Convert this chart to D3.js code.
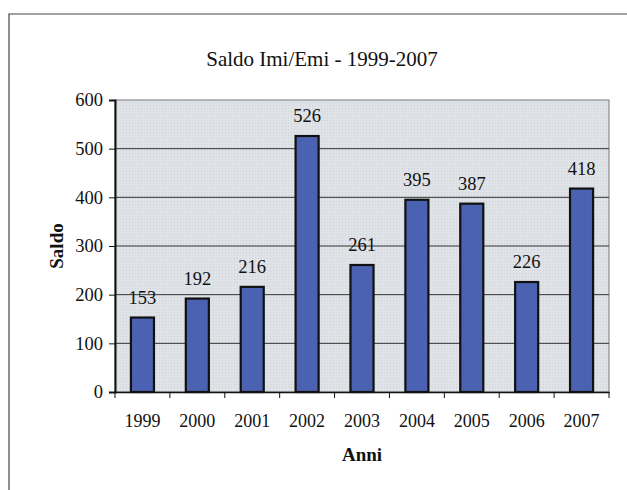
<!DOCTYPE html>
<html><head><meta charset="utf-8">
<script src="https://cdn.jsdelivr.net/npm/d3@7"></script>
<style>body{margin:0;background:#fff}</style>
</head><body>
<script>
const categories = ["1999","2000","2001","2002","2003","2004","2005","2006","2007"];
const values = [153,192,216,526,261,395,387,226,418];
const yTicks = [0,100,200,300,400,500,600];
const title = "Saldo Imi/Emi - 1999-2007";
const xTitle = "Anni";
const yTitle = "Saldo";

const W = 627, H = 490;
const m = {left:115, top:100, right:W-609, bottom:H-392};
const FONT = "'Liberation Serif','Times New Roman',serif";
const svg = d3.select("body").append("svg").attr("width",W).attr("height",H)
  .style("font-family",FONT);

// outer frame
svg.append("path").attr("d",`M9,${H+5} L9,14 L${W+5},14`).attr("fill","none")
  .attr("stroke","#444").attr("stroke-width",1.2);

const x = d3.scaleBand().domain(categories).range([m.left, W-m.right]).paddingInner(0.58).paddingOuter(0.29);
const xb = d3.scaleBand().domain(categories).range([m.left, W-m.right]);
const y = d3.scaleLinear().domain([0,600]).range([H-m.bottom, m.top]);

// plot background
const defs = svg.append("defs");
const pat = defs.append("pattern").attr("id","dots").attr("width",3).attr("height",3).attr("patternUnits","userSpaceOnUse");
pat.append("rect").attr("width",3).attr("height",3).attr("fill","#dfe2e6");
pat.append("rect").attr("width",1).attr("height",1).attr("fill","#cfd3d8");
svg.append("rect").attr("x",m.left).attr("y",m.top).attr("width",W-m.left-m.right).attr("height",H-m.top-m.bottom)
  .attr("fill","url(#dots)").attr("stroke","#777").attr("stroke-width",1);

// gridlines
svg.append("g").selectAll("line").data(yTicks.filter(d=>d>0&&d<600)).join("line")
  .attr("x1",m.left).attr("x2",W-m.right).attr("y1",d=>y(d)).attr("y2",d=>y(d))
  .attr("stroke","#333").attr("stroke-width",1);

// bars
svg.append("g").selectAll("rect").data(values).join("rect")
  .attr("x",(d,i)=>x(categories[i])).attr("width",x.bandwidth())
  .attr("y",d=>y(d)).attr("height",d=>y(0)-y(d))
  .attr("fill","#4b61b1").attr("stroke","#111").attr("stroke-width",2.2);

// labels
svg.append("g").selectAll("text").data(values).join("text")
  .attr("x",(d,i)=>x(categories[i])+x.bandwidth()/2).attr("y",d=>y(d)-14)
  .attr("text-anchor","middle").style("font-size","18.5px").attr("fill","#111").text(d=>d);

// y axis
const ya = svg.append("g").attr("transform",`translate(${m.left},0)`)
  .call(d3.axisLeft(y).tickValues(yTicks).tickSize(6).tickPadding(6));
ya.attr("font-family",FONT).attr("font-size",18.5);
ya.select(".domain").attr("stroke","#111").attr("stroke-width",2);
ya.selectAll(".tick line").attr("stroke","#111");
ya.selectAll("text").attr("fill","#111");

// x axis
const xa = svg.append("g").attr("transform",`translate(0,${y(0)})`)
  .call(d3.axisBottom(xb).tickSize(0).tickPadding(22));
xa.attr("font-family",FONT).attr("font-size",18);
xa.select(".domain").attr("stroke","#111").attr("stroke-width",1.5);
xa.selectAll("text").attr("fill","#111");
svg.append("g").selectAll("line").data(d3.range(categories.length+1)).join("line")
  .attr("x1",i=>m.left+i*xb.step()).attr("x2",i=>m.left+i*xb.step())
  .attr("y1",y(0)).attr("y2",y(0)+6).attr("stroke","#111");

// titles
svg.append("text").attr("x",322).attr("y",66).attr("text-anchor","middle").style("font-size","21px").attr("fill","#111").text(title);
svg.append("text").attr("x",362).attr("y",461).attr("text-anchor","middle").style("font-size","19px").attr("font-weight","bold").attr("fill","#111").text(xTitle);
svg.append("text").attr("transform","translate(63,246) rotate(-90)").attr("text-anchor","middle").style("font-size","19px").attr("font-weight","bold").attr("fill","#111").text(yTitle);
</script>
</body></html>
